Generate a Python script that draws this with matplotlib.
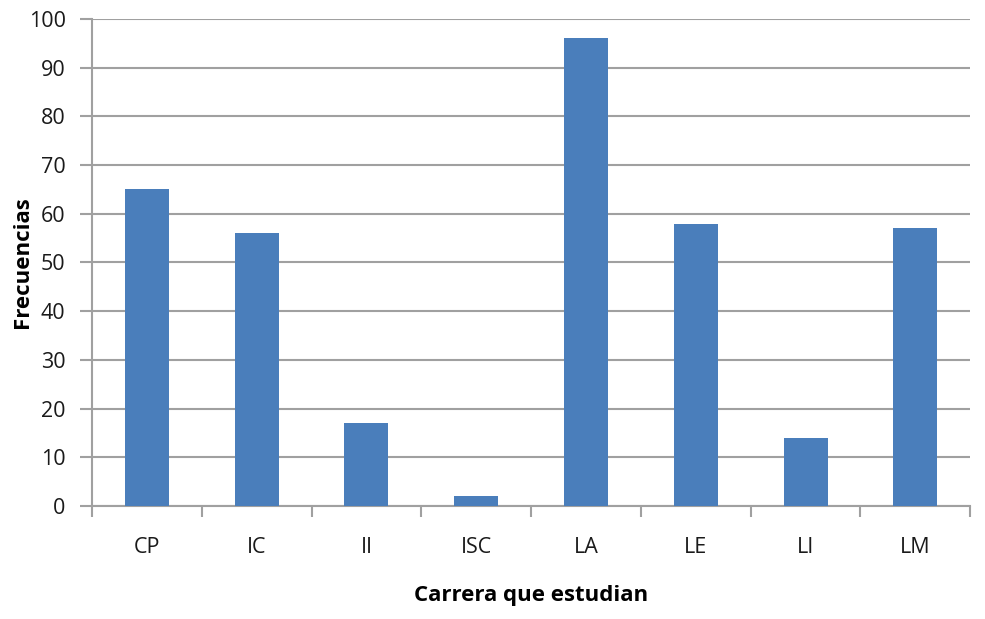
import matplotlib
matplotlib.use("Agg")
import matplotlib.pyplot as plt
import numpy as np

carreras = ["CP", "IC", "II", "ISC", "LA", "LE", "LI", "LM"]
frecuencias = [65, 56, 17, 2, 96, 58, 14, 57]

plt.rcParams["font.family"] = ["Open Sans", "DejaVu Sans"]

fig = plt.figure(figsize=(9.85, 6.19), dpi=100)
ax = fig.add_axes([0.0934, 0.1826, 0.8916, 0.7867])

x = np.arange(len(carreras))
ax.bar(x, frecuencias, width=0.4, color="#4a7ebb", zorder=3)

gris = "#a0a0a0"
ax.set_ylim(0, 100)
ax.set_yticks(range(0, 101, 10))
ax.yaxis.grid(True, color=gris, linewidth=1.5, zorder=0)
ax.set_xlim(-0.5, len(carreras) - 0.5)

# ticks entre categorias, etiquetas centradas
ax.set_xticks(np.arange(-0.5, len(carreras), 1.0))
ax.set_xticklabels([])
ax.set_xticks(x, minor=True)
ax.set_xticklabels(carreras, minor=True, fontsize=15.5, color="#1a1a1a")
ax.tick_params(axis="x", which="major", length=8, width=1.5, color=gris, direction="out")
ax.tick_params(axis="x", which="minor", length=0, pad=22)
ax.tick_params(axis="y", length=9, width=1.5, color=gris, labelsize=15.5,
               labelcolor="#1a1a1a", pad=10)

for s in ["top", "right"]:
    ax.spines[s].set_visible(False)
for s in ["left", "bottom"]:
    ax.spines[s].set_color(gris)
    ax.spines[s].set_linewidth(1.5)

ax.set_xlabel("Carrera que estudian", fontsize=16, fontweight="bold", labelpad=20)
ax.set_ylabel("Frecuencias", fontsize=16, fontweight="bold", labelpad=-3)

plt.savefig("out.png", dpi=100)
